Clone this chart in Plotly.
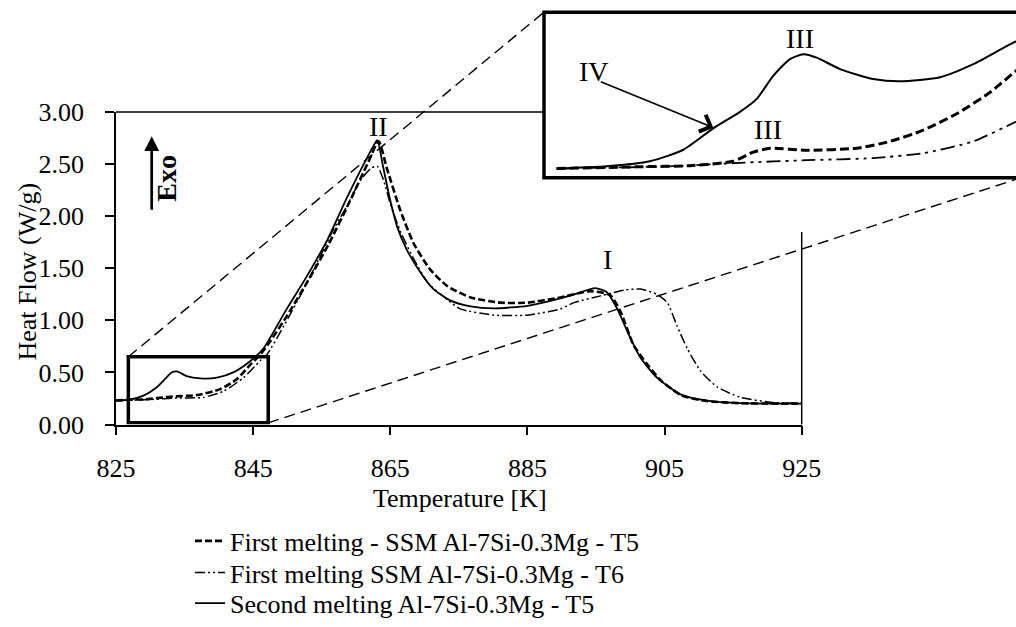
import plotly.graph_objects as go

# ---------------- data ----------------
# First melting - SSM Al-7Si-0.3Mg - T5 (dashed)
t5_first_T = [825, 827.5, 829, 832.9, 836.8, 840.2, 842.6, 844.6, 846, 847.5, 850, 853, 856,
              859, 861.8, 863.3, 864.5, 866.5, 868.4, 870.8, 873.3, 876.7, 881.1, 885, 889.8,
              894.2, 897.1, 898.6, 900.5, 902.5, 904.5, 907.5, 911.2, 916.1, 925]
t5_first_H = [0.23, 0.24, 0.24, 0.267, 0.283, 0.34, 0.434, 0.575, 0.67, 0.80, 1.05, 1.38, 1.73,
              2.13, 2.52, 2.72, 2.46, 2.05, 1.74, 1.49, 1.33, 1.22, 1.17, 1.17, 1.22,
              1.28, 1.24, 1.08, 0.76, 0.575, 0.42, 0.28, 0.225, 0.205, 0.20]

# First melting SSM Al-7Si-0.3Mg - T6 (dash-dot-dot)
t6_first_T = [825, 830, 833.9, 837.7, 840.7, 843.6, 846, 847, 849.5, 851.9, 854.3, 856.7, 858.7,
              860.6, 862.2, 863.1, 864.0, 865.0, 866.5, 868.5, 870.5, 873.3, 875.2, 880.1, 885,
              889.8, 891.8, 895.7, 899.1, 901.5, 903.9, 905.4, 906.8, 908.3, 910.3, 912.7, 916.1,
              921, 925]
t6_first_H = [0.23, 0.24, 0.255, 0.26, 0.32, 0.45, 0.61, 0.67, 0.95, 1.24, 1.55, 1.87, 2.10,
              2.34, 2.46, 2.48, 2.35, 2.12, 1.85, 1.58, 1.36, 1.20, 1.11, 1.05, 1.05,
              1.11, 1.17, 1.235, 1.29, 1.30, 1.25, 1.17, 0.95, 0.73, 0.51, 0.36, 0.26,
              0.21, 0.205]

# Second melting Al-7Si-0.3Mg - T5 (solid)
t5_second_T = [825, 827, 829, 830.9, 832.2, 833.1, 833.9, 835.3, 837.3, 839.7, 842.1, 844.6,
               846.5, 849.9, 852.8, 855.8, 858.7, 861.6, 862.6, 863.1, 864.0, 865.0, 866.0,
               867.4, 869.4, 871.3, 873.8, 876.7, 880.1, 885.0, 889.8, 891.8, 894.9, 896.6,
               898.1, 899.6, 901.5, 903.9, 907.3, 911.2, 916.1, 925]
t5_second_H = [0.23, 0.24, 0.277, 0.356, 0.44, 0.50, 0.51, 0.465, 0.443, 0.45, 0.50, 0.61,
               0.73, 1.11, 1.42, 1.77, 2.18, 2.56, 2.68, 2.73, 2.46, 2.15, 1.90,
               1.68, 1.46, 1.30, 1.19, 1.135, 1.115, 1.14, 1.21, 1.25, 1.31, 1.27,
               1.11, 0.89, 0.64, 0.45, 0.29, 0.23, 0.205, 0.20]

# Magnified inset (826.8-847.2 K window)
inset_solid_T = [827.34, 829.48, 831.33, 832.76, 834.04, 835.18, 835.90, 836.61, 837.32, 837.89,
                 838.46, 839.46, 840.88, 842.03, 843.74, 845.16, 846.59, 847.59]
inset_solid_H = [0.051, 0.060, 0.079, 0.123, 0.205, 0.268, 0.318, 0.407, 0.470, 0.489,
                 0.476, 0.432, 0.394, 0.385, 0.401, 0.451, 0.520, 0.564]
inset_t5_T = [827.34, 830.91, 833.04, 834.90, 835.75, 836.47, 838.04, 840.17, 841.60, 843.02,
              844.45, 845.88, 846.99, 847.59]
inset_t5_H = [0.051, 0.058, 0.062, 0.079, 0.114, 0.129, 0.121, 0.129, 0.155, 0.198,
              0.261, 0.343, 0.425, 0.461]
inset_t6_T = [827.34, 832.33, 835.18, 838.04, 840.88, 843.02, 845.16, 846.99, 847.59]
inset_t6_H = [0.051, 0.060, 0.073, 0.083, 0.091, 0.110, 0.155, 0.230, 0.25]

x_ticks = [825, 845, 865, 885, 905, 925]
y_ticks = [0.0, 0.5, 1.0, 1.5, 2.0, 2.5, 3.0]
zoom_window = [826.8, 847.2, 0.016, 0.65]   # T0, T1, H0, H1

legend_names = ["First melting - SSM Al-7Si-0.3Mg - T5",
                "First melting SSM Al-7Si-0.3Mg - T6",
                "Second melting Al-7Si-0.3Mg - T5"]

# ---------------- layout geometry ----------------
W, H = 1016, 627
FONT = "Liberation Serif"
FS = 26

def px(xp):
    return xp / W

def py(yp):
    return 1 - yp / H

XD = [px(116), px(801.7)]
YD = [py(430), py(113.5)]
XR = [825, 925]
YR = [0, 3]

def to_paper(T, Hv):
    xp = XD[0] + (T - XR[0]) / (XR[1] - XR[0]) * (XD[1] - XD[0])
    yp = YD[0] + (Hv - YR[0]) / (YR[1] - YR[0]) * (YD[1] - YD[0])
    return xp, yp

INSET_X = [px(544), 1.0]
INSET_Y = [py(180), py(12.3)]
inset_T1 = zoom_window[0] + (1016 - 544) / (1021 - 544) * (zoom_window[1] - zoom_window[0])

fig = go.Figure()

dash_t5 = "7px,3px"
dash_t6 = "10px,3px,2px,3px,2px,3px"

fig.add_trace(go.Scatter(x=t5_first_T, y=t5_first_H, mode="lines", name=legend_names[0],
                         legend="legend",
                         line=dict(color="black", width=2.6, dash=dash_t5, shape="spline", smoothing=0.6)))
fig.add_trace(go.Scatter(x=t6_first_T, y=t6_first_H, mode="lines", name=legend_names[1],
                         legend="legend2",
                         line=dict(color="black", width=1.5, dash=dash_t6, shape="spline", smoothing=0.6)))
fig.add_trace(go.Scatter(x=t5_second_T, y=t5_second_H, mode="lines", name=legend_names[2],
                         legend="legend3",
                         line=dict(color="black", width=1.8, shape="spline", smoothing=0.6)))

# inset traces
fig.add_trace(go.Scatter(x=inset_t6_T, y=inset_t6_H, mode="lines", showlegend=False,
                         xaxis="x2", yaxis="y2",
                         line=dict(color="black", width=1.8, dash="14px,5px,3px,5px,3px,5px", shape="spline", smoothing=0.6)))
fig.add_trace(go.Scatter(x=inset_t5_T, y=inset_t5_H, mode="lines", showlegend=False,
                         xaxis="x2", yaxis="y2",
                         line=dict(color="black", width=3, dash="9px,4px", shape="spline", smoothing=0.6)))
fig.add_trace(go.Scatter(x=inset_solid_T, y=inset_solid_H, mode="lines", showlegend=False,
                         xaxis="x2", yaxis="y2",
                         line=dict(color="black", width=2, shape="spline", smoothing=0.6)))

axis_common = dict(showgrid=False, zeroline=False, showline=True, linecolor="black", linewidth=1.5,
                   ticks="outside", ticklen=9, tickwidth=1.5, tickcolor="black",
                   tickfont=dict(family=FONT, size=FS, color="black"), automargin=False)

legend_common = dict(x=px(190), xanchor="left", yanchor="middle",
                     font=dict(family=FONT, size=FS, color="black"),
                     bgcolor="rgba(0,0,0,0)", borderwidth=0, itemwidth=30)

fig.update_layout(
    width=W, height=H,
    margin=dict(l=0, r=0, t=0, b=0),
    paper_bgcolor="white", plot_bgcolor="white",
    template="none",
    font=dict(family=FONT, size=FS, color="black"),
    xaxis=dict(domain=XD, range=XR, tickvals=x_ticks, ticktext=[str(v) for v in x_ticks],
               ticklabelstandoff=11, **axis_common),
    yaxis=dict(domain=YD, range=YR, tickvals=y_ticks, ticktext=[f"{v:.2f}" for v in y_ticks],
               ticklabelstandoff=16, **axis_common),
    xaxis2=dict(domain=INSET_X, range=[zoom_window[0], inset_T1], visible=False, anchor="y2"),
    yaxis2=dict(domain=INSET_Y, range=[zoom_window[2], zoom_window[3]], visible=False, anchor="x2"),
    showlegend=True,
    legend=dict(y=py(548), **legend_common),
    legend2=dict(y=py(580), **legend_common),
    legend3=dict(y=py(611), **legend_common),
)

shapes = []
# top border of plot area (the rest is hidden by the inset)
shapes.append(dict(type="line", xref="paper", yref="paper", x0=px(116), x1=px(544),
                   y0=py(113.5), y1=py(113.5), line=dict(color="black", width=1.5)))
# right border (partially)
shapes.append(dict(type="line", xref="paper", yref="paper", x0=px(801.7), x1=px(801.7),
                   y0=py(235), y1=py(430), line=dict(color="black", width=1.5)))
# zoom box in the main plot
shapes.append(dict(type="rect", xref="x", yref="y", x0=zoom_window[0], x1=zoom_window[1],
                   y0=zoom_window[2], y1=zoom_window[3], line=dict(color="black", width=3.5)))
# inset frame
shapes.append(dict(type="rect", xref="paper", yref="paper", x0=px(544), x1=px(1021),
                   y0=py(180), y1=py(12.3), line=dict(color="black", width=3.5)))
# connectors
bx0, by1 = to_paper(zoom_window[0], zoom_window[3])
bx1, by0 = to_paper(zoom_window[1], zoom_window[2])
shapes.append(dict(type="line", xref="paper", yref="paper", x0=bx0, y0=by1, x1=px(544), y1=py(12.3),
                   line=dict(color="black", width=1.4, dash="11px,6px")))
shapes.append(dict(type="line", xref="paper", yref="paper", x0=bx1, y0=by0, x1=px(1021), y1=py(180),
                   line=dict(color="black", width=1.4, dash="11px,6px")))
fig.update_layout(shapes=shapes)

ann = []
def label(text, xp_, yp_, size=28, angle=0, bold=False):
    t = f"<b>{text}</b>" if bold else text
    ann.append(dict(text=t, xref="paper", yref="paper", x=px(xp_), y=py(yp_),
                    xanchor="center", yanchor="middle", showarrow=False, textangle=angle,
                    font=dict(family=FONT, size=size, color="black")))

label("Temperature [K]", 460, 505, size=FS)
label("Heat Flow (W/g)", 27, 275, size=FS, angle=-90)
label("II", 378, 128)
label("I", 607, 263)
label("III", 800, 39)
label("III", 768, 131)
label("IV", 594, 72)
label("Exo", 167, 181, size=28, angle=-90, bold=True)

# Exo arrow
ann.append(dict(text="", xref="paper", yref="paper", x=px(151.7), y=py(138), ax=0, ay=75,
                showarrow=True, arrowhead=2, arrowsize=1.1, arrowwidth=2.7, arrowcolor="black",
                standoff=0, startstandoff=0))
# IV arrow
ann.append(dict(text="", xref="paper", yref="paper", x=px(713.3), y=py(129.3), ax=-114, ay=-46.6,
                showarrow=True, arrowhead=4, arrowsize=2.2, arrowwidth=1.6, arrowcolor="black",
                standoff=0, startstandoff=0))
fig.update_layout(annotations=ann)

fig.write_html("out.html")
